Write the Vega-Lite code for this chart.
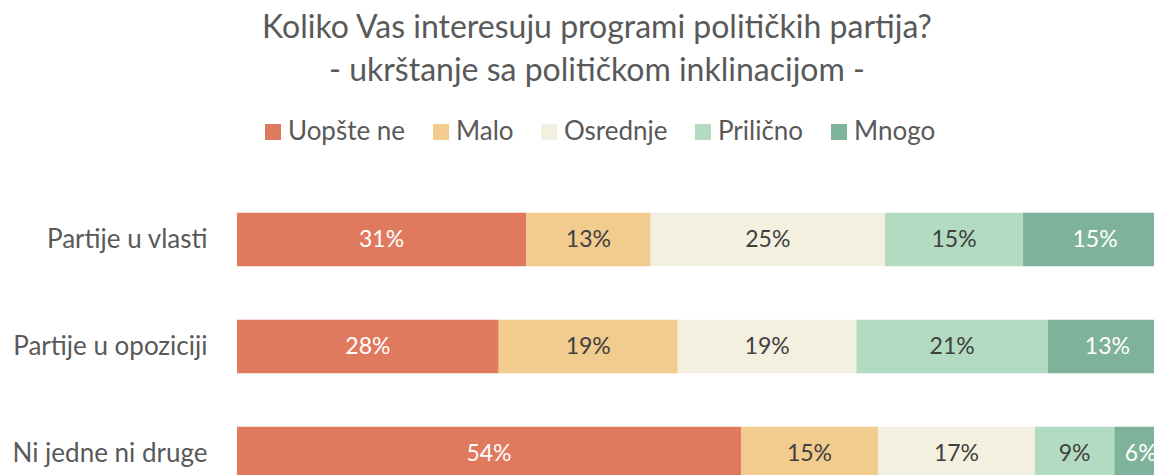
{
  "$schema": "https://vega.github.io/schema/vega-lite/v6.json",
  "autosize": {"type": "none"},
  "width": 930,
  "height": 321,
  "padding": {"left": 237, "top": 186, "right": 0, "bottom": 0},
  "background": "white",
  "config": {"view": {"stroke": null}},
  "title": {
    "text": ["Koliko Vas interesuju programi političkih partija?", "- ukrštanje sa političkom inklinacijom -"],
    "font": "Lato",
    "fontSize": 32,
    "fontWeight": "normal",
    "lineHeight": 43,
    "color": "#595959",
    "anchor": "middle",
    "frame": "group",
    "dx": -105,
    "offset": 31
  },
  "data": {
    "values": [
      {"group": "Partije u vlasti", "category": "Uopšte ne", "ord": 1, "share": 0.3108},
      {"group": "Partije u vlasti", "category": "Malo", "ord": 2, "share": 0.1340},
      {"group": "Partije u vlasti", "category": "Osrednje", "ord": 3, "share": 0.2520},
      {"group": "Partije u vlasti", "category": "Prilično", "ord": 4, "share": 0.1484},
      {"group": "Partije u vlasti", "category": "Mnogo", "ord": 5, "share": 0.1548},
      {"group": "Partije u opoziciji", "category": "Uopšte ne", "ord": 1, "share": 0.2814},
      {"group": "Partije u opoziciji", "category": "Malo", "ord": 2, "share": 0.1925},
      {"group": "Partije u opoziciji", "category": "Osrednje", "ord": 3, "share": 0.1922},
      {"group": "Partije u opoziciji", "category": "Prilično", "ord": 4, "share": 0.2058},
      {"group": "Partije u opoziciji", "category": "Mnogo", "ord": 5, "share": 0.1281},
      {"group": "Ni jedne ni druge", "category": "Uopšte ne", "ord": 1, "share": 0.5419},
      {"group": "Ni jedne ni druge", "category": "Malo", "ord": 2, "share": 0.1473},
      {"group": "Ni jedne ni druge", "category": "Osrednje", "ord": 3, "share": 0.1688},
      {"group": "Ni jedne ni druge", "category": "Prilično", "ord": 4, "share": 0.0854},
      {"group": "Ni jedne ni druge", "category": "Mnogo", "ord": 5, "share": 0.0566}
    ]
  },
  "transform": [
    {"stack": "share", "groupby": ["group"], "sort": [{"field": "ord", "order": "ascending"}], "as": ["s0", "s1"]},
    {"calculate": "(datum.s0 + datum.s1) / 2", "as": "mid"}
  ],
  "encoding": {
    "y": {
      "field": "group",
      "type": "nominal",
      "sort": ["Partije u vlasti", "Partije u opoziciji", "Ni jedne ni druge"],
      "scale": {"paddingInner": 0.5, "paddingOuter": 0.25},
      "axis": {
        "title": null,
        "ticks": false,
        "domain": false,
        "grid": false,
        "labelFont": "Lato",
        "labelFontSize": 26,
        "labelColor": "#595959",
        "labelPadding": 30,
        "labelLimit": 400
      }
    }
  },
  "layer": [
    {
      "mark": {"type": "bar"},
      "encoding": {
        "x": {"field": "s0", "type": "quantitative", "scale": {"domain": [0, 1], "nice": false}, "axis": null},
        "x2": {"field": "s1"},
        "color": {
          "field": "category",
          "type": "nominal",
          "scale": {
            "domain": ["Uopšte ne", "Malo", "Osrednje", "Prilično", "Mnogo"],
            "range": ["#E07A5F", "#F2CB8E", "#F3F0DF", "#B2DBC2", "#7FB29A"]
          },
          "legend": {
            "title": null,
            "orient": "none",
            "direction": "horizontal",
            "legendX": 23,
            "legendY": -67,
            "symbolType": "square",
            "symbolSize": 256,
            "symbolStrokeWidth": 0,
            "labelFont": "Lato",
            "labelFontSize": 26,
            "labelColor": "#595959",
            "labelOffset": 2,
            "columnPadding": 22
          }
        }
      }
    },
    {
      "mark": {"type": "text", "font": "Lato", "fontSize": 23, "align": "center", "baseline": "middle"},
      "encoding": {
        "x": {"field": "mid", "type": "quantitative"},
        "text": {"field": "share", "type": "quantitative", "format": ".0%"},
        "color": {
          "condition": {"test": "datum.category === 'Uopšte ne' || datum.category === 'Mnogo'", "value": "#FFFFFF"},
          "value": "#404040"
        }
      }
    }
  ]
}
